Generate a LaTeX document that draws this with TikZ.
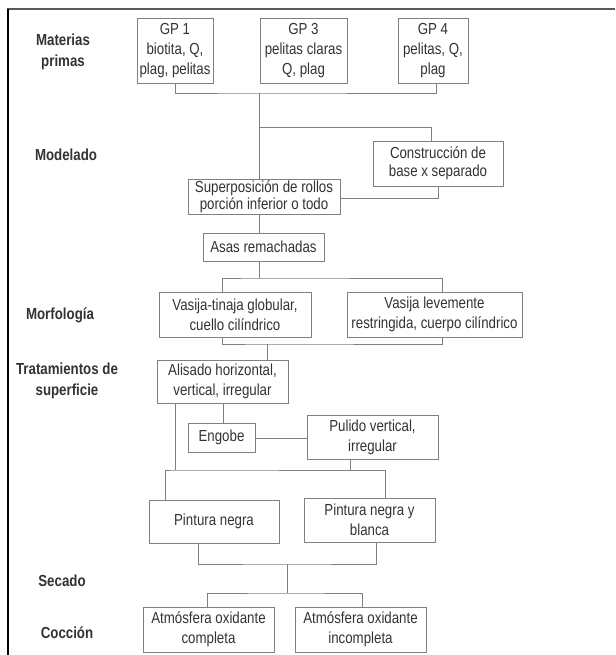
\documentclass[tikz,border=0pt]{standalone}
\usepackage{fontspec}
\setmainfont{Liberation Sans}[FakeStretch=0.83]
\definecolor{txt}{HTML}{333333}
\definecolor{edge}{HTML}{808080}
\begin{document}
\begin{tikzpicture}[x=1pt,y=-1pt,
  box/.style={draw=edge,line width=0.8pt,inner sep=0pt,align=center,text=txt,
    font=\fontsize{16}{20}\selectfont},
  lab/.style={align=center,text=txt,font=\fontsize{16}{21}\selectfont\bfseries},
  con/.style={draw=edge,line width=0.8pt}]
\useasboundingbox (0,0) rectangle (615,655);
\fill[white] (0,0) rectangle (615,655);
% frame
\draw[line width=2pt,color=black!65] (7,9) -- (615,9);
\draw[line width=1.5pt,color=black] (8,9) -- (8,655);
% labels
\node[lab] (l1) at (63,52) {Materias\\primas};
\node[lab] (l2) at (66,155) {Modelado};
\node[lab] (l3) at (60,315) {Morfología};
\node[lab] (l4) at (67,381) {Tratamientos de\\superficie};
\node[lab] (l5) at (62,581) {Secado};
\node[lab] (l6) at (67,633) {Cocción};
% boxes
\node[box,minimum width=76pt,minimum height=65pt] (gp1) at (175,50.5) {GP 1\\biotita, Q,\\plag, pelitas};
\node[box,minimum width=87pt,minimum height=65pt] (gp3) at (303.5,50.5) {GP 3\\pelitas claras\\Q, plag};
\node[box,minimum width=70pt,minimum height=65pt] (gp4) at (433,50.5) {GP 4\\pelitas, Q,\\plag};
\node[box,minimum width=130pt,minimum height=45pt,font=\fontsize{16}{18}\selectfont] (con) at (438,163.5) {Construcción de\\base x separado};
\node[box,minimum width=152pt,minimum height=35pt,font=\fontsize{16}{17}\selectfont] (sup) at (264,196.5) {Superposición de rollos\\porción inferior o todo};
\node[box,minimum width=121pt,minimum height=28pt] (asa) at (263.5,247) {Asas remachadas};
\node[box,minimum width=152pt,minimum height=45pt] (vt) at (235,314.5) {Vasija-tinaja globular,\\cuello cilíndrico};
\node[box,minimum width=175pt,minimum height=45pt] (vl) at (434.5,314.5) {Vasija levemente\\restringida, cuerpo cilíndrico};
\node[box,minimum width=131pt,minimum height=43pt] (ali) at (222.5,381.5) {Alisado horizontal,\\vertical, irregular};
\node[box,minimum width=67pt,minimum height=29pt] (eng) at (221.5,437.5) {Engobe};
\node[box,minimum width=131pt,minimum height=44pt] (pul) at (372.5,437) {Pulido vertical,\\irregular};
\node[box,minimum width=130pt,minimum height=43pt] (pn) at (214,521.5) {Pintura negra};
\node[box,minimum width=131pt,minimum height=44pt] (pnb) at (369.5,520) {Pintura negra y\\blanca};
\node[box,minimum width=131pt,minimum height=45pt] (ac) at (208.5,629.5) {Atmósfera oxidante\\completa};
\node[box,minimum width=131pt,minimum height=45pt] (ai) at (360.5,629.5) {Atmósfera oxidante\\incompleta};
% junction coordinates
\coordinate (j1) at (259,93);
\coordinate (j2) at (259,127);
\coordinate (j3) at (259,278);
\coordinate (j4) at (267,344);
\coordinate (j5) at (175,470);
\coordinate (j6) at (287,564);
\coordinate (j7) at (287,593);
% connectors
\draw[con] (gp1.south -| 175,0) |- (j1) -| (gp4.south -| 436,0);
\draw[con] (gp3.south -| 303,0) -- (gp3.south -| 303,0 |- j1);
\draw[con] (j1) -- (sup.north -| j1);
\draw[con] (j2) -| (con.north -| 431,0);
\draw[con] (con.south -| 438,0) |- (sup.east |- 0,198);
\draw[con] (sup.south -| j1) -- (asa.north -| j1);
\draw[con] (asa.south -| j1) -- (j3);
\draw[con] (vt.north -| 222,0) |- (j3) -| (vl.north -| 442,0);
\draw[con] (vt.south -| 222,0) |- (j4) -| (vl.south -| 442,0);
\draw[con] (j4) -- (ali.north -| j4);
\draw[con] (ali.south -| 223,0) -- (eng.north -| 223,0);
\draw[con] (eng.east |- 0,438) -- (pul.west |- 0,438);
\draw[con] (ali.south -| j5) -- (j5);
\draw[con] (pul.south -| 350,0) -- (j5 -| 350,0);
\draw[con] (pn.north -| 165,0) |- (j5) -| (pnb.north -| 385,0);
\draw[con] (pn.south -| 198,0) |- (j6) -| (pnb.south -| 376,0);
\draw[con] (j6) -- (j7);
\draw[con] (ac.north -| 207,0) |- (j7) -| (ai.north -| 362,0);
\end{tikzpicture}
\end{document}
